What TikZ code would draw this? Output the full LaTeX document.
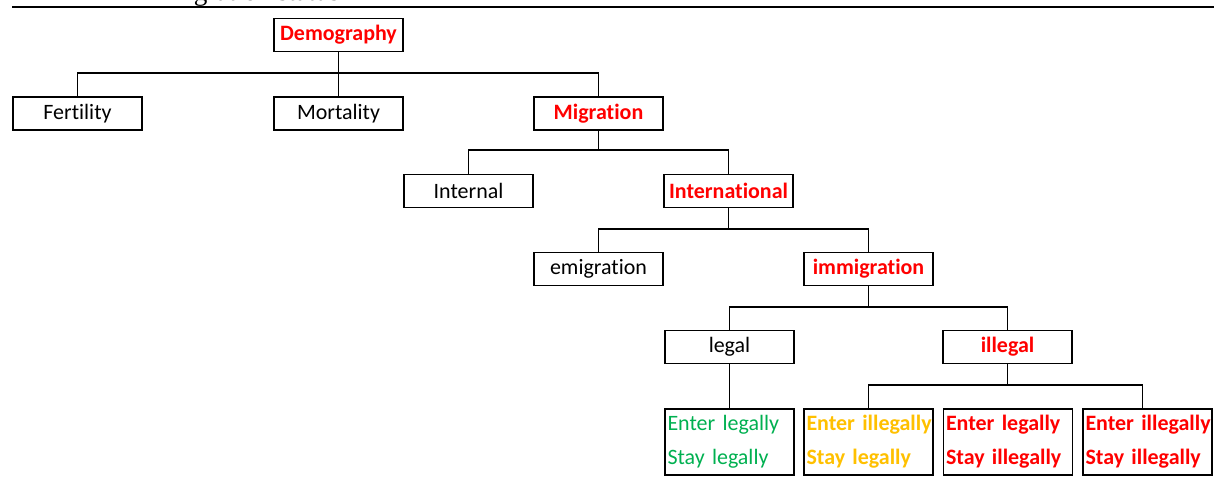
\documentclass[tikz,border=0pt]{standalone}
\usepackage{fontspec}
\setmainfont{Carlito}[Ligatures={NoCommon}]
\newfontfamily\capfont{Liberation Serif}
\usetikzlibrary{calc}

\definecolor{keyred}{RGB}{255,0,0}
\definecolor{okgreen}{RGB}{0,176,80}
\definecolor{warnorange}{RGB}{255,192,0}

\newcommand{\twolines}[2]{\mbox{#1}\\\mbox{#2}}

\begin{document}
\begin{tikzpicture}[x=0.02cm, y=-0.02cm,
	box/.style = {draw, line width=1.1pt, minimum width=2.58cm, minimum height=0.66cm,
		inner sep=0pt, font=\fontsize{12.5}{15}\selectfont},
	keybox/.style = {box, text=keyred, font=\fontsize{12.5}{15}\selectfont\bfseries},
	leafbox/.style = {draw, line width=1.1pt, minimum height=1.32cm, text width=2.48cm,
		inner xsep=0.05cm, inner ysep=0pt, align=left, font=\fontsize{12.5}{19.3}\selectfont},
	boldleaf/.style = {leafbox, font=\fontsize{12.5}{19.3}\selectfont\bfseries},
	link/.style = {line width=0.6pt}]

	\useasboundingbox (0,0) rectangle (1214,480);

	% caption remains
	\node[anchor=base, font=\capfont\fontsize{15.5}{16}\selectfont] (cap) at (238,1) {immigration status};
	\draw[line width=1.1pt] (12,7) -- (1214,7);

	% bus levels
	\coordinate (b1) at (0,73);
	\coordinate (b2) at (0,150);
	\coordinate (b3) at (0,229);
	\coordinate (b4) at (0,307);
	\coordinate (b5) at (0,385);

	\node[keybox] (dem) at (338.5,35) {Demography};

	\node[box] (fert) at (77.5,113.5) {Fertility};
	\node[box] (mort) at (338.5,113.5) {Mortality};
	\node[keybox] (mig) at (598.5,113.5) {Migration};

	\node[box] (inl) at (468.5,191) {Internal};
	\node[keybox] (intl) at (728.5,191) {International};

	\node[box] (emig) at (598.5,269) {emigration};
	\node[keybox] (immig) at (868.5,269) {immigration};

	\node[box] (legal) at (729.5,347) {legal};
	\node[keybox] (illegal) at (1007.5,347) {illegal};

	\node[leafbox, text=okgreen] (ll) at (729.5,442) {\twolines{Enter legally}{Stay legally}};
	\node[boldleaf, text=warnorange] (il) at (868.5,442) {\twolines{Enter illegally}{Stay legally}};
	\node[boldleaf, text=keyred] (li) at (1008,442) {\twolines{Enter legally}{Stay illegally}};
	\node[boldleaf, text=keyred] (ii) at (1147.5,442) {\twolines{Enter illegally}{Stay illegally}};

	\draw[link] (dem.south) -- (dem.south |- b1);
	\draw[link] (dem.south |- b1) -| (fert.north);
	\draw[link] (dem.south |- b1) -- (mort.north);
	\draw[link] (dem.south |- b1) -| (mig.north);

	\draw[link] (mig.south) -- (mig.south |- b2);
	\draw[link] (mig.south |- b2) -| (inl.north);
	\draw[link] (mig.south |- b2) -| (intl.north);

	\draw[link] (intl.south) -- (intl.south |- b3);
	\draw[link] (intl.south |- b3) -| (emig.north);
	\draw[link] (intl.south |- b3) -| (immig.north);

	\draw[link] (immig.south) -- (immig.south |- b4);
	\draw[link] (immig.south |- b4) -| (legal.north);
	\draw[link] (immig.south |- b4) -| (illegal.north);

	\draw[link] (legal.south) -- (ll.north);

	\draw[link] (illegal.south) -- (illegal.south |- b5);
	\draw[link] (illegal.south |- b5) -| (il.north);
	\draw[link] (illegal.south |- b5) -| ($(ii.north)+(-5,0)$);

\end{tikzpicture}
\end{document}
